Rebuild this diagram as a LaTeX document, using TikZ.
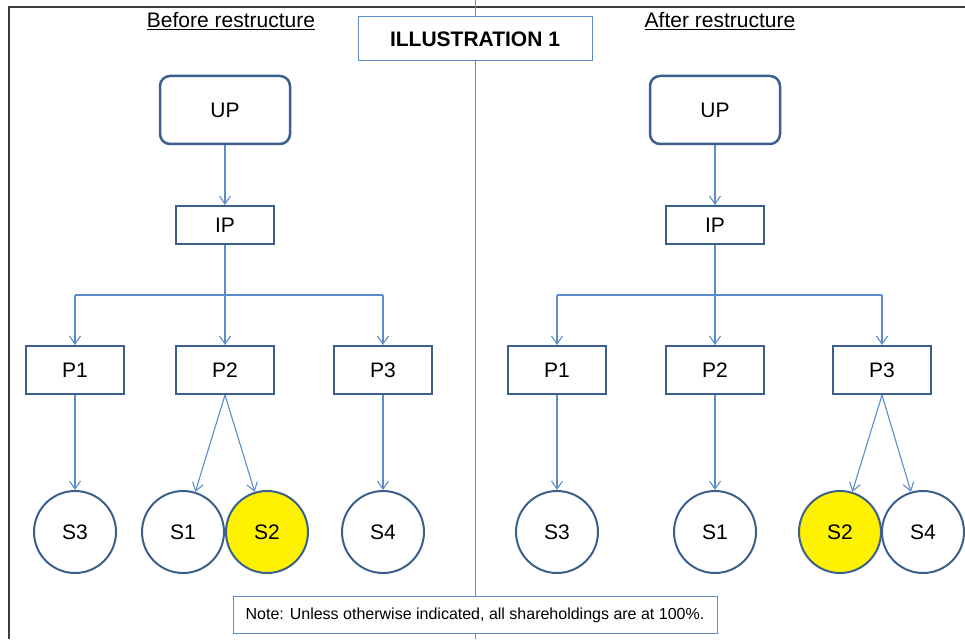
\documentclass[tikz,border=0pt]{standalone}
\usepackage{fontspec}
\setmainfont{Liberation Sans}
\usetikzlibrary{arrows.meta}
\definecolor{boxblue}{RGB}{60,96,140}
\definecolor{linkblue}{RGB}{92,140,202}
\definecolor{framegray}{RGB}{60,60,60}

\begin{document}
\begin{tikzpicture}[x=1pt,y=-1pt,
  every node/.style={font=\fontsize{21}{25}\selectfont},
  topbox/.style={draw=boxblue,line width=2.5pt,rounded corners=10pt,minimum width=130pt,minimum height=68pt,inner sep=0pt},
  entbox/.style={draw=boxblue,line width=2pt,minimum width=98pt,minimum height=48pt,inner sep=0pt},
  subco/.style={draw=boxblue,line width=2pt,circle,minimum size=82pt,inner sep=0pt,fill=white},
  tagbox/.style={draw=linkblue,line width=1pt,fill=white,inner sep=0pt},
  link/.style={draw=linkblue,line width=1.1pt,-{Straight Barb[length=8pt,width=11pt]}}]
\useasboundingbox (0,0) rectangle (965,639);
% frame and divider
\draw[framegray,line width=1.5pt] (9,639) -- (9,7) -- (965,7);
\coordinate (divtop) at (475,0);
\coordinate (divbot) at (475,639);
\draw[linkblue,line width=1pt] (divtop) -- (divbot);
\node[tagbox,minimum width=234pt,minimum height=44pt,font=\fontsize{21}{25}\selectfont\bfseries] (title) at (475,39) {ILLUSTRATION 1};
\node (before) at (231,21) {\underline{Before restructure}};
\node (after) at (720,21) {\underline{After restructure}};

% before restructure
\node[topbox] (UPL) at (225,110) {UP};
\node[entbox,minimum height=38pt] (IPL) at (225,225) {IP};
\node[entbox] (P1L) at (75,370) {P1};
\node[entbox] (P2L) at (225,370) {P2};
\node[entbox] (P3L) at (383,370) {P3};
\node[subco] (S3L) at (75,532) {S3};
\node[subco] (S1L) at (183,532) {S1};
\node[subco,fill=yellow] (S2L) at (267,532) {S2};
\node[subco] (S4L) at (383,532) {S4};
\coordinate (busL) at (225,295);
\draw[link] (UPL) -- (IPL);
\draw[linkblue,line width=1.1pt] (IPL) -- (busL);
\draw[linkblue,line width=1.1pt] (P1L |- busL) -- (P3L |- busL);
\foreach \p in {P1L,P2L,P3L}
\draw[link] (\p |- busL) -- (\p);
\draw[link] (P1L) -- (S3L);
\draw[link] (P2L.south) -- (S1L);
\draw[link] (P2L.south) -- (S2L);
\draw[link] (P3L) -- (S4L);

% after restructure
\node[topbox] (UPR) at (715,110) {UP};
\node[entbox,minimum height=38pt] (IPR) at (715,225) {IP};
\node[entbox] (P1R) at (557,370) {P1};
\node[entbox] (P2R) at (715,370) {P2};
\node[entbox] (P3R) at (882,370) {P3};
\node[subco] (S3R) at (557,532) {S3};
\node[subco] (S1R) at (715,532) {S1};
\node[subco,fill=yellow] (S2R) at (840,532) {S2};
\node[subco] (S4R) at (923,532) {S4};
\coordinate (busR) at (715,295);
\draw[link] (UPR) -- (IPR);
\draw[linkblue,line width=1.1pt] (IPR) -- (busR);
\draw[linkblue,line width=1.1pt] (P1R |- busR) -- (P3R |- busR);
\foreach \p in {P1R,P2R,P3R}
\draw[link] (\p |- busR) -- (\p);
\draw[link] (P1R) -- (S3R);
\draw[link] (P2R) -- (S1R);
\draw[link] (P3R.south) -- (S2R);
\draw[link] (P3R.south) -- (S4R);

\node[tagbox,minimum width=484pt,minimum height=37pt,font=\fontsize{16}{19}\selectfont] (note) at (475,615) {Note: Unless otherwise indicated, all shareholdings are at 100\%.};
\end{tikzpicture}
\end{document}
